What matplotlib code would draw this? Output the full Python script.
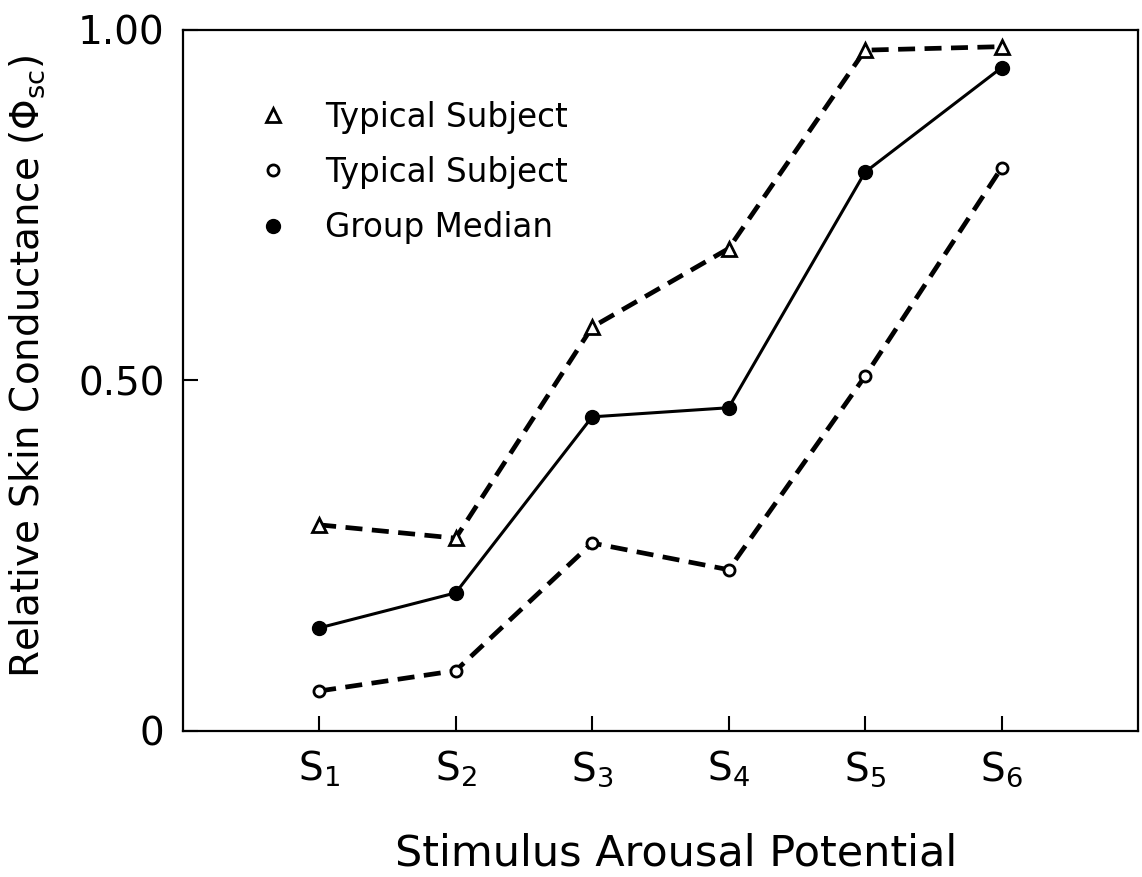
import matplotlib
matplotlib.use("Agg")
import matplotlib.pyplot as plt
from matplotlib.lines import Line2D

plt.rcParams['font.family'] = ['DejaVu Sans']
plt.rcParams['mathtext.default'] = 'regular'

# stimulus levels S1..S6
stimuli = [1, 2, 3, 4, 5, 6]
stim_labels = [r'$S_1$', r'$S_2$', r'$S_3$', r'$S_4$', r'$S_5$', r'$S_6$']

# relative skin conductance
subject_a = [0.294, 0.275, 0.576, 0.688, 0.971, 0.976]   # triangles
subject_b = [0.057, 0.086, 0.268, 0.230, 0.506, 0.803]   # open circles
group_median = [0.147, 0.197, 0.448, 0.461, 0.797, 0.946]

legend_labels = ['Typical Subject', 'Typical Subject', 'Group Median']

fig = plt.figure(figsize=(11.42, 8.77), dpi=100)
ax = fig.add_axes([0.160, 0.1665, 0.8365, 0.7995])

dash = (3.6, 2.0)
ax.plot(stimuli, subject_a, color='black', lw=3.4, dashes=dash,
        marker='^', ms=10, mfc='white', mec='black', mew=2.0, zorder=3)
ax.plot(stimuli, subject_b, color='black', lw=3.4, dashes=dash,
        marker='o', ms=8, mfc='white', mec='black', mew=2.0, zorder=3)
ax.plot(stimuli, group_median, color='black', lw=2.2,
        marker='o', ms=10, mfc='black', mec='black', zorder=4)

ax.set_xlim(0, 7)
ax.set_ylim(0, 1.0)
ax.set_xticks(stimuli)
ax.set_xticklabels(stim_labels)
ax.set_yticks([0, 0.5, 1.0])
ax.set_yticklabels(['0', '0.50', '1.00'])

for s in ax.spines.values():
    s.set_linewidth(1.6)
ax.tick_params(axis='both', direction='in', length=11, width=1.5,
               labelsize=28)
ax.tick_params(axis='x', pad=13)
ax.tick_params(axis='y', pad=13)

ax.set_xlabel('Stimulus Arousal Potential', fontsize=31)
ax.xaxis.set_label_coords(0.517, -0.145)
ax.set_ylabel(r'Relative Skin Conductance ($\Phi_{sc}$)', fontsize=28)
ax.yaxis.set_label_coords(-0.142, 0.52)

handles = [
    Line2D([], [], ls='None', marker='^', ms=10, mfc='white', mec='black', mew=2.0),
    Line2D([], [], ls='None', marker='o', ms=8, mfc='white', mec='black', mew=2.0),
    Line2D([], [], ls='None', marker='o', ms=10, mfc='black', mec='black'),
]
ax.legend(handles, legend_labels, loc='upper left', bbox_to_anchor=(0.0775, 0.899),
          frameon=False, fontsize=23.5, handlelength=1.0, handletextpad=1.09,
          labelspacing=0.68, borderpad=0, borderaxespad=0)

fig.savefig('out.png', dpi=100)
